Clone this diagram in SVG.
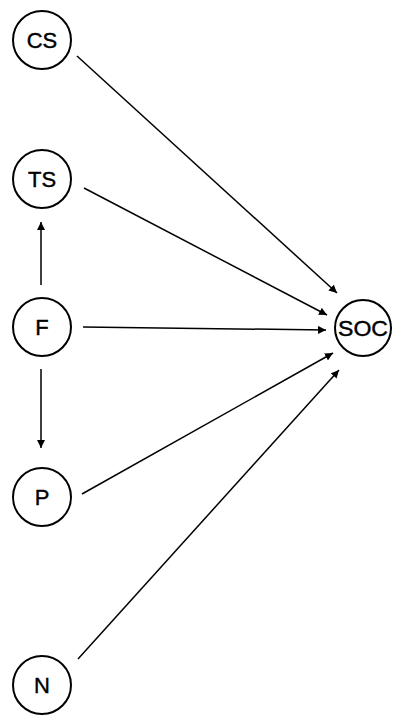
<svg xmlns="http://www.w3.org/2000/svg" width="393" height="715" viewBox="0 0 393 715">
<style>
.n{fill:#fff;stroke:#000;stroke-width:2}
.t{font-family:"Liberation Sans",Arial,sans-serif;font-size:22px;text-anchor:middle;dominant-baseline:central;fill:#000;stroke:#000;stroke-width:0.4}
.e{stroke:#000;stroke-width:1.5;fill:none;marker-end:url(#a)}
</style>
<defs>
<marker id="a" viewBox="0 0 10 10" refX="10" refY="5" markerWidth="8" markerHeight="8" markerUnits="userSpaceOnUse" orient="auto">
<path d="M0,0 L10,5 L0,10 Z" fill="#000"/>
</marker>
</defs>
<g id="edges">
<line class="e" x1="77" y1="56" x2="337" y2="293"/>
<line class="e" x1="84" y1="188" x2="327" y2="315"/>
<line class="e" x1="83" y1="327" x2="326" y2="330"/>
<line class="e" x1="82" y1="494" x2="333" y2="353"/>
<line class="e" x1="78" y1="659" x2="339" y2="370"/>
<line class="e" x1="41" y1="285" x2="41" y2="222"/>
<line class="e" x1="41" y1="369" x2="41" y2="448"/>
</g>
<g id="CS"><circle class="n" cx="42" cy="40" r="29"/><text class="t" x="42" y="40">CS</text></g>
<g id="TS"><circle class="n" cx="42" cy="179" r="29"/><text class="t" x="42" y="179">TS</text></g>
<g id="F"><circle class="n" cx="42" cy="327" r="29"/><text class="t" x="42" y="327">F</text></g>
<g id="P"><circle class="n" cx="42" cy="497" r="29"/><text class="t" x="42" y="497">P</text></g>
<g id="N"><circle class="n" cx="42" cy="685" r="29"/><text class="t" x="42" y="685">N</text></g>
<g id="SOC"><circle class="n" cx="363" cy="328" r="28"/><text class="t" x="363" y="328" textLength="50" lengthAdjust="spacingAndGlyphs">SOC</text></g>
</svg>
